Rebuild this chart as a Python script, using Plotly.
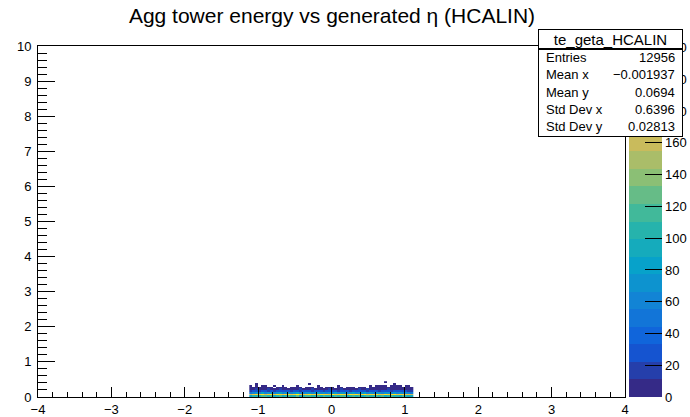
import plotly.graph_objects as go

# ---------------- data ----------------
title_text = "Agg tower energy vs generated \u03b7 (HCALIN)"
hist_name = "te_geta_HCALIN"
stat_labels = ["Entries", "Mean x", "Mean y", "Std Dev x", "Std Dev y"]
stat_values = ["12956", "\u22120.001937", "0.0694", "0.6396", "0.02813"]

x_lo, x_w, n_x = -1.12, 0.04, 56      # x binning of the filled region
y_lo, y_w = 0.0, 0.05                  # y binning

row0 = [88,102,110,97,115,121,104,112,99,108,118,95,106,113,101,109,122,97,104,116,
        111,100,107,119,96,114,103,110,98,117,105,112,120,99,108,115,102,111,94,109,
        118,104,100,113,107,121,98,110,116,103,109,95,112,106,99,90]
row1 = [162,181,195,188,203,176,192,199,185,207,190,178,196,201,184,193,210,187,179,198,
        205,189,194,182,200,191,197,186,221,180,195,203,188,176,199,192,206,185,190,202,
        183,197,194,208,187,179,201,196,189,205,184,198,191,183,177,158]
row2 = [52,66,71,60,78,64,69,75,58,72,80,63,67,74,61,70,82,59,65,77,
        68,62,73,79,57,71,66,76,60,83,64,70,75,58,69,78,63,72,67,81,
        59,74,65,70,77,62,68,73,61,76,66,71,64,69,60,48]
row3 = [18,24,29,21,33,26,22,30,19,27,31,23,25,28,20,32,26,22,29,24,
        30,21,27,25,33,19,28,23,26,31,22,29,24,27,20,30,25,23,32,26,
        21,28,24,30,22,27,25,29,20,26,31,23,28,24,19,14]
row4 = [6,9,12,7,11,8,13,10,5,9,12,7,10,8,11,6,9,13,7,10,
        8,12,6,9,11,7,10,13,8,9,6,12,10,7,11,8,9,13,6,10,
        12,7,9,11,8,10,6,12,9,7,11,8,10,9,6,4]
row5 = [2,4,3,1,3,2,4,1,0,2,3,1,2,0,3,1,2,1,0,2,
        1,3,0,1,2,0,1,3,1,0,2,1,0,2,1,3,0,1,2,1,
        0,3,2,1,2,4,1,3,2,1,2,3,1,2,3,1]
row6 = [1,0,2,0,1,1,0,0,1,0,0,1,0,0,0,0,1,0,0,0,
        0,0,0,1,0,0,0,0,0,0,1,0,0,0,0,0,0,0,0,0,
        0,1,0,1,1,2,1,0,1,1,2,1,0,1,1,0]
row7 = [0,0,1,0,0,0,0,0,0,0,0,0,0,0,0,0,0,0,0,0,
        1,0,0,0,0,0,0,0,0,0,0,0,0,0,0,0,0,0,0,0,
        0,0,0,0,0,0,0,0,0,1,0,0,0,0,0,0]
row8 = [0,0,0,0,0,0,0,0,0,0,0,0,0,0,0,0,0,0,0,0,
        0,0,0,0,0,0,0,0,0,0,0,0,0,0,0,0,0,0,0,0,
        0,0,0,0,0,0,1,0,0,0,0,0,0,0,0,0]
rows = [row0, row1, row2, row3, row4, row5, row6, row7, row8]

z_max = 221
n_contours = 20
cbar_ticks = [0, 20, 40, 60, 80, 100, 120, 140, 160, 180, 200, 220]

# ---------------- build ----------------
x_centers = [x_lo + x_w * (i + 0.5) for i in range(n_x)]
y_centers = [y_lo + y_w * (j + 0.5) for j in range(len(rows))]
z = [[(v if v > 0 else None) for v in r] for r in rows]

# ROOT kBird palette
stops = [0.0, 0.125, 0.25, 0.375, 0.5, 0.625, 0.75, 0.875, 1.0]
red = [0.2082, 0.0592, 0.0780, 0.0232, 0.1802, 0.5301, 0.8186, 0.9956, 0.9764]
green = [0.1664, 0.3599, 0.5041, 0.6419, 0.7178, 0.7492, 0.7328, 0.7862, 0.9832]
blue = [0.5293, 0.8684, 0.8385, 0.7914, 0.6425, 0.4662, 0.3499, 0.1968, 0.0539]


def bird(f):
    for k in range(len(stops) - 1):
        if stops[k] <= f <= stops[k + 1]:
            t = (f - stops[k]) / (stops[k + 1] - stops[k])
            c = [a + (b - a) * t for a, b in ((red[k], red[k + 1]), (green[k], green[k + 1]), (blue[k], blue[k + 1]))]
            return "rgb(%d,%d,%d)" % tuple(round(255 * v) for v in c)
    return "rgb(249,251,14)"


cscale = []
for k in range(n_contours):
    col = bird(k / (n_contours - 1))
    cscale.append([k / n_contours, col])
    cscale.append([(k + 1) / n_contours, col])

L, R, T, B = 38, 625, 46, 397
W, H = 690, 417


def px(xp):
    return (xp - L) / (R - L)


def py(yp):
    return (B - yp) / (B - T)


font = "Liberation Sans, Arial, Helvetica, sans-serif"

fig = go.Figure()
fig.add_trace(go.Heatmap(
    x=x_centers, y=y_centers, z=z, zmin=0, zmax=z_max,
    colorscale=cscale, hoverongaps=False,
    colorbar=dict(
        x=px(629), xanchor="left", xpad=0, y=0.5, yanchor="middle", ypad=0,
        len=1, lenmode="fraction", thickness=33, thicknessmode="pixels",
        outlinewidth=0, ticks="inside", ticklen=17, tickcolor="black", tickwidth=1,
        tickvals=cbar_ticks, ticktext=[str(t) for t in cbar_ticks],
        tickfont=dict(family=font, size=13, color="black"),
    ),
))

fig.update_layout(
    width=W, height=H,
    margin=dict(l=L, r=W - R, t=T, b=H - B, pad=0, autoexpand=False),
    paper_bgcolor="white", plot_bgcolor="white",
    font=dict(family=font, size=13, color="black"),
    title=dict(text=title_text, font=dict(family=font, size=21, color="black"),
               xref="container", x=332 / W, xanchor="center",
               yref="container", y=1 - 16 / H, yanchor="middle"),
    showlegend=False,
)
fig.update_xaxes(
    range=[-4, 4], dtick=1, tick0=0, ticks="inside", ticklen=10, tickcolor="black",
    showline=True, linecolor="black", linewidth=1, mirror=True,
    showgrid=False, zeroline=False,
    minor=dict(dtick=0.2, ticks="inside", ticklen=5, tickcolor="black", showgrid=False),
    tickfont=dict(size=13), ticklabelstandoff=0,
)
fig.update_yaxes(
    range=[0, 10], dtick=1, tick0=0, ticks="inside", ticklen=17, tickcolor="black",
    showline=True, linecolor="black", linewidth=1, mirror=True,
    showgrid=False, zeroline=False,
    minor=dict(dtick=0.2, ticks="inside", ticklen=9, tickcolor="black", showgrid=False),
    tickfont=dict(size=13), ticklabelstandoff=3,
)

# stats box
bx0, bx1, by0, bsep, by1 = 538, 683, 29, 49, 137
anns = []
anns.append(dict(xref="paper", yref="paper", x=px((bx0 + bx1) / 2), y=py((by0 + bsep) / 2),
                 text=hist_name, showarrow=False, width=bx1 - bx0 - 2, height=bsep - by0 - 2,
                 bgcolor="white", bordercolor="black", borderwidth=1, borderpad=0,
                 xanchor="center", yanchor="middle", font=dict(size=15, family=font, color="black")))
anns.append(dict(xref="paper", yref="paper", x=px((bx0 + bx1) / 2), y=py((bsep + by1) / 2),
                 text=" ", showarrow=False, width=bx1 - bx0 - 2, height=by1 - bsep - 2,
                 bgcolor="white", bordercolor="black", borderwidth=1, borderpad=0,
                 xanchor="center", yanchor="middle"))
row_y = [57, 74.5, 92, 109.5, 127]
for lab, val, yy in zip(stat_labels, stat_values, row_y):
    anns.append(dict(xref="paper", yref="paper", x=px(544), y=py(yy), text=lab, showarrow=False,
                     xanchor="left", yanchor="middle", font=dict(size=13, family=font, color="black")))
    anns.append(dict(xref="paper", yref="paper", x=px(677), y=py(yy), text=val, showarrow=False,
                     xanchor="right", yanchor="middle", font=dict(size=13, family=font, color="black")))
fig.update_layout(annotations=anns)

fig.write_html("out.html")
